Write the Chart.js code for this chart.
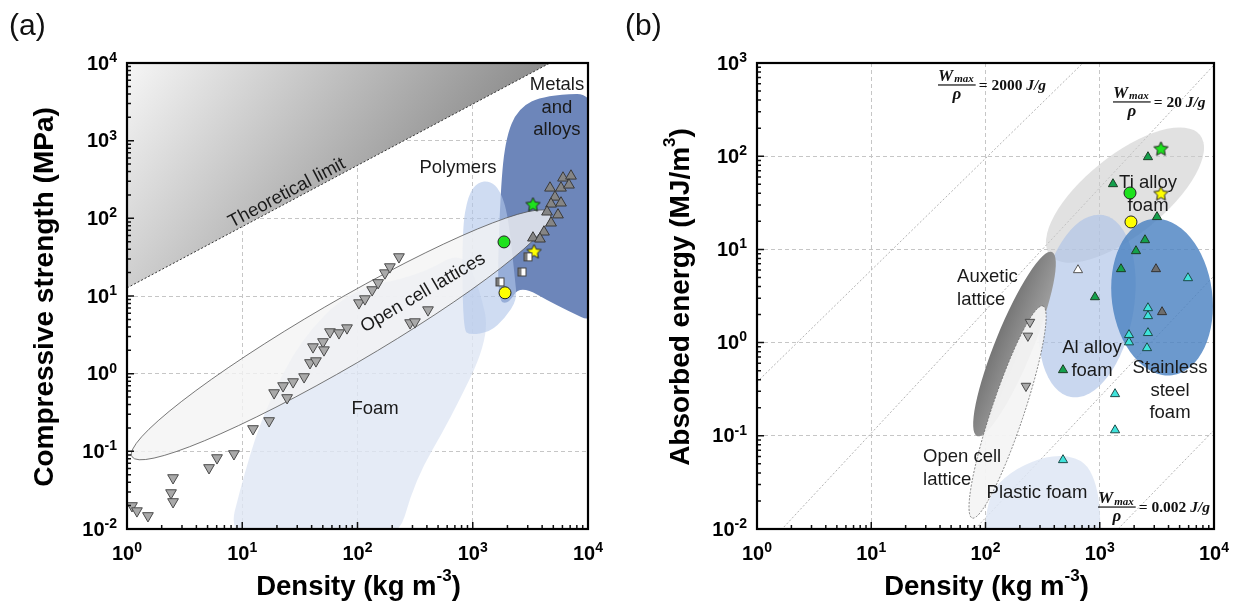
<!DOCTYPE html>
<html>
<head>
<meta charset="utf-8">
<script src="https://cdn.jsdelivr.net/npm/chart.js"></script>
<style>
  body { margin: 0; background: #fff; }
  #wrap { position: relative; width: 1236px; height: 611px; overflow: hidden; }
  .panel { position: absolute; top: 0; width: 618px; height: 611px; }
  .tag { position: absolute; top: 8px; font: 30px "Liberation Sans", Arial, sans-serif; color: #111; }
</style>
</head>
<body>
<div id="wrap">
  <canvas id="chartA" class="panel" width="618" height="611" style="left:0"></canvas>
  <canvas id="chartB" class="panel" width="618" height="611" style="left:618px"></canvas>
  <div class="tag" style="left:9px">(a)</div>
  <div class="tag" style="left:625px">(b)</div>
</div>
<script>
const FONT = '"Liberation Sans", Arial, Helvetica, sans-serif';
const SERIF = '"Liberation Serif", "DejaVu Serif", serif';

// ─── (a) compressive strength vs density ─────────────────────────────────────
const aXDecades = [0, 1, 2, 3, 4];
const aYDecades = [-2, -1, 0, 1, 2, 3, 4];

const theoryX = [1, 4680, 1];
const theoryY = [12.7, 1e4, 1e4];

const foamX = [7.0, 10.6, 15.7, 31.7, 86, 349, 823, 1156, 1413, 635, 315, 210];
const foamY = [0.005, 0.0578, 0.342, 2.72, 12, 18.7, 39.2, 12, 2.98, 0.254, 0.043, 0.005];
const polymerX = [823, 807, 910, 1110, 1413, 1723, 2025, 2330, 2420, 1905, 1413, 946];
const polymerY = [3.66, 70.8, 200, 294, 303, 232, 111, 16.1, 8.9, 5.2, 3.45, 3.16];
const metalX = [15000, 4240, 2470, 1905, 1723, 1625, 2025, 2570, 5170, 15000];
const metalY = [4110, 3870, 2640, 1020, 173, 8.9, 7.7, 13.9, 7.7, 3.66];
const latticeA = { c: [71.9, 3.16], end: [4680, 117], side: [99, 1.38] };

const latticeX = [1.105, 1.22, 1.52, 2.41, 2.51, 2.51, 5.15, 6.04, 8.47, 12.4, 17.1, 18.9, 22.6, 24.5, 27.6,
  34.4, 38.7, 43.6, 41.1, 50.2, 51.2, 57.7, 69.1, 81.1, 103, 116, 134, 151, 173, 191, 229, 286, 315, 409];
const latticeY = [0.0199, 0.0171, 0.0148, 0.0292, 0.0224, 0.0456, 0.0614, 0.0824, 0.0929, 0.195, 0.247, 0.566, 0.697, 0.489, 0.784,
  0.91, 1.38, 1.46, 2.21, 2.57, 2.02, 3.45, 3.35, 3.88, 8.15, 9.18, 12, 14.8, 19.8, 23.7, 31.9, 4.51, 4.64, 6.62];
const metalPtX = [6070, 7120, 5830, 6840, 4680, 5170, 4780, 5830, 4410, 5490, 4780, 4150, 3330, 3830];
const metalPtY = [331, 351, 246, 269, 246, 188, 153, 158, 121, 111, 87.3, 66.8, 56, 54.3];
const squareX = [3015, 2675, 1723];
const squareY = [31.9, 20.4, 15.2];
const aCircleX = [1867, 1905];
const aCircleY = [49.7, 11];
const aStarX = [3330, 3400];
const aStarY = [153, 38];

// ─── (b) absorbed energy vs density ──────────────────────────────────────────
const bXDecades = [0, 1, 2, 3, 4];
const bYDecades = [-2, -1, 0, 1, 2, 3];

const ratioStartX = [1, 1.72, 81, 1445];
const ratioStartY = [0.378, 0.0105, 0.01, 0.01];
const ratioEndX = [713, 1e4, 1e4, 1e4];
const ratioEndY = [1000, 953, 5.2, 0.115];

const tiFoam = { c: [1663, 38.3], end: [7540, 169], side: [2754, 17.8] };
const alFoam = { c: [773, 2.47], end: [1067, 23.4], side: [1954, 2.03] };
const steelFoam = { c: [3510, 3.08], end: [2866, 21.2], side: [9600, 2.66] };
const auxetic = { c: [179.4, 0.966], end: [382, 9.38], side: [255, 0.813] };
const openLatticeB = { c: [156, 0.18], end: [318, 2.47], side: [213, 0.159] };
const plasticX = [95, 105, 164, 300, 497, 743, 908, 1005, 1020];
const plasticY = [0.006, 0.0232, 0.0409, 0.0578, 0.0622, 0.0524, 0.0336, 0.0181, 0.006];

const greenTriX = [2643, 1306, 3170, 2489, 2075, 1535, 908, 477];
const greenTriY = [98, 50.3, 22.3, 12.6, 9.61, 6.16, 3.08, 0.508];
const grayTriX = [3105, 3510];
const grayTriY = [6.16, 2.13];
const whiteTriX = [645];
const whiteTriY = [6.01];
const cyanTriX = [5920, 2643, 2643, 1803, 1803, 2643, 2592, 1361, 1361, 477];
const cyanTriY = [4.93, 2.35, 1.93, 1.21, 1.01, 1.27, 0.875, 0.281, 0.115, 0.055];
const downTriX = [245, 235, 226];
const downTriY = [1.66, 1.18, 0.342];
const bCircleX = [1840, 1876];
const bCircleY = [40.3, 19.7];
const bStarX = [3436, 3436];
const bStarY = [122, 40.3];

// ─── helpers ─────────────────────────────────────────────────────────────────

const isDecade = v => v > 0 && Math.abs(Math.log10(v) - Math.round(Math.log10(v))) < 1e-6;

function allTicks(lo, hi) {
  const t = [];
  for (let e = lo; e < hi; e++) for (let m = 1; m < 10; m++) t.push(m * 10 ** e);
  t.push(10 ** hi);
  return t;
}

function logScale(decades, axis, size) {
  const lo = decades[0], hi = decades[decades.length - 1];
  return {
    type: 'logarithmic', min: 10 ** lo, max: 10 ** hi,
    afterBuildTicks(s) { s.ticks = allTicks(lo, hi).map(v => ({ value: v })); },
    afterFit(s) { if (axis === 'x') s.height = size; else s.width = size; },
    ticks: { display: false },
    grid: { drawTicks: false, lineWidth: 1, color: c => isDecade(c.tick && c.tick.value) ? '#c6c6c6' : 'rgba(0,0,0,0)' },
    border: { display: false, dash: [4, 3] },
  };
}

const pts = (xs, ys) => xs.map((x, i) => ({ x, y: ys[i] }));
const px = (chart, x, y) => [chart.scales.x.getPixelForValue(x), chart.scales.y.getPixelForValue(y)];

function smoothPath(ctx, p) {
  const n = p.length, mid = (a, b) => [(a[0] + b[0]) / 2, (a[1] + b[1]) / 2];
  const m0 = mid(p[n - 1], p[0]);
  ctx.beginPath();
  ctx.moveTo(m0[0], m0[1]);
  for (let i = 0; i < n; i++) {
    const m = mid(p[i], p[(i + 1) % n]);
    ctx.quadraticCurveTo(p[i][0], p[i][1], m[0], m[1]);
  }
  ctx.closePath();
}

function blob(chart, xs, ys, fill) {
  smoothPath(chart.ctx, xs.map((v, i) => px(chart, v, ys[i])));
  chart.ctx.fillStyle = fill;
  chart.ctx.fill();
}

function ellipse(chart, e) {
  const c = px(chart, ...e.c), p = px(chart, ...e.end), s = px(chart, ...e.side);
  const a = Math.hypot(p[0] - c[0], p[1] - c[1]);
  const b = Math.hypot(s[0] - c[0], s[1] - c[1]);
  const ang = Math.atan2(p[1] - c[1], p[0] - c[0]);
  chart.ctx.beginPath();
  chart.ctx.ellipse(c[0], c[1], a, b, ang, 0, Math.PI * 2);
  return { c, a, b, ang };
}

function label(chart, lines, x, y, align = 'center', rot = 0) {
  const { ctx } = chart;
  const [cx, cy] = px(chart, x, y);
  ctx.save();
  ctx.translate(cx, cy);
  ctx.rotate(rot);
  ctx.font = `18.5px ${FONT}`;
  ctx.fillStyle = '#1a1a1a';
  ctx.textAlign = align;
  ctx.textBaseline = 'middle';
  lines.forEach((t, i) => ctx.fillText(t, 0, i * 22.5));
  ctx.restore();
}

function ratioLabel(chart, x, y, value) {
  const { ctx } = chart;
  const [lx, ly] = px(chart, x, y);
  ctx.save();
  ctx.fillStyle = '#111';
  ctx.textAlign = 'left';
  ctx.textBaseline = 'alphabetic';
  ctx.font = `bold italic 17px ${SERIF}`;
  const wW = ctx.measureText('W').width;
  ctx.fillText('W', lx, ly - 4);
  ctx.font = `bold italic 11px ${SERIF}`;
  const wm = ctx.measureText('max').width;
  ctx.fillText('max', lx + wW + 1, ly - 2.5);
  const w = wW + wm + 3;
  ctx.fillRect(lx, ly - 0.6, w, 1.2);
  ctx.font = `bold italic 17px ${SERIF}`;
  ctx.fillText('ρ', lx + (w - ctx.measureText('ρ').width) / 2, ly + 14);
  ctx.font = `bold 15.5px ${SERIF}`;
  const head = '= ' + value + ' ';
  ctx.fillText(head, lx + w + 3, ly + 5);
  const wh = ctx.measureText(head).width;
  ctx.font = `bold italic 15.5px ${SERIF}`;
  ctx.fillText('J/g', lx + w + 3 + wh, ly + 5);
  ctx.restore();
}

function starImage(fill, r) {
  const c = document.createElement('canvas');
  const s = Math.ceil(2 * r + 4);
  c.width = c.height = s;
  const g = c.getContext('2d');
  g.beginPath();
  for (let i = 0; i < 10; i++) {
    const rr = i % 2 ? r * 0.48 : r, a = -Math.PI / 2 + i * Math.PI / 5;
    g.lineTo(s / 2 + rr * Math.cos(a), s / 2 + 1 + rr * Math.sin(a));
  }
  g.closePath();
  g.fillStyle = fill; g.fill();
  g.strokeStyle = '#222'; g.lineWidth = 1; g.stroke();
  return c;
}

function squareImage() {
  const c = document.createElement('canvas');
  c.width = c.height = 11;
  const g = c.getContext('2d');
  g.fillStyle = '#fff'; g.fillRect(1, 1, 9, 9);
  g.fillStyle = '#7a7a7a'; g.fillRect(1, 1, 4, 9);
  g.strokeStyle = '#444'; g.lineWidth = 1; g.strokeRect(1.5, 1.5, 8, 8);
  return c;
}

function powerLabel(ctx, exp, x, y, align) {
  ctx.font = `bold 20px ${FONT}`;
  const w1 = ctx.measureText('10').width;
  ctx.font = `bold 14px ${FONT}`;
  const w2 = ctx.measureText(exp).width;
  const left = align === 'right' ? x - w1 - w2 : x - (w1 + w2) / 2;
  ctx.textAlign = 'left';
  ctx.textBaseline = 'middle';
  ctx.font = `bold 20px ${FONT}`;
  ctx.fillText('10', left, y);
  ctx.font = `bold 14px ${FONT}`;
  ctx.fillText(exp, left + w1, y - 6);
}

function richTitle(ctx, parts, cx, cy, rot, size) {
  ctx.save();
  ctx.translate(cx, cy);
  ctx.rotate(rot);
  const big = `bold ${size}px ${FONT}`, small = `bold ${Math.round(size * 0.62)}px ${FONT}`;
  let total = 0;
  for (const p of parts) { ctx.font = p.sup ? small : big; total += ctx.measureText(p.t).width; }
  let x = -total / 2;
  ctx.textAlign = 'left';
  ctx.textBaseline = 'middle';
  ctx.fillStyle = '#000';
  for (const p of parts) {
    ctx.font = p.sup ? small : big;
    ctx.fillText(p.t, x, p.sup ? -size * 0.38 : 0);
    x += ctx.measureText(p.t).width;
  }
  ctx.restore();
}

// Plugin: frame, inward ticks, power-of-ten tick labels and axis titles
const framePlugin = {
  id: 'frame',
  afterDraw(chart) {
    const o = chart.options.plugins.frame;
    if (!o) return;
    const { ctx, chartArea: a, scales: { x, y } } = chart;
    ctx.save();
    ctx.strokeStyle = '#111';
    ctx.lineWidth = 1.5;
    ctx.beginPath();
    for (const t of x.ticks) {
      const p = x.getPixelForValue(t.value), len = isDecade(t.value) ? 7 : 4;
      ctx.moveTo(p, a.bottom); ctx.lineTo(p, a.bottom - len);
    }
    for (const t of y.ticks) {
      const p = y.getPixelForValue(t.value), len = isDecade(t.value) ? 7 : 4;
      ctx.moveTo(a.left, p); ctx.lineTo(a.left + len, p);
    }
    ctx.stroke();
    ctx.strokeStyle = '#000';
    ctx.lineWidth = 2.2;
    ctx.strokeRect(a.left, a.top, a.right - a.left, a.bottom - a.top);

    ctx.fillStyle = '#000';
    for (const e of o.xDecades) powerLabel(ctx, String(e), x.getPixelForValue(10 ** e), a.bottom + 25, 'center');
    for (const e of o.yDecades) powerLabel(ctx, String(e), a.left - 10, y.getPixelForValue(10 ** e) + 1, 'right');

    richTitle(ctx, o.xTitle, (a.left + a.right) / 2 + 1, a.bottom + 58, 0, 27.5);
    richTitle(ctx, o.yTitle, o.yTitleX, (a.top + a.bottom) / 2 + 1, -Math.PI / 2, 28);
    ctx.restore();
  },
};
Chart.register(framePlugin);

const densityTitle = [{ t: 'Density (kg m' }, { t: '-3', sup: true }, { t: ')' }];

// ─── (a) shapes ──────────────────────────────────────────────────────────────

function drawShapesA(chart) {
  const { ctx, chartArea: a } = chart;
  ctx.save();
  ctx.beginPath();
  ctx.rect(a.left, a.top, a.right - a.left, a.bottom - a.top);
  ctx.clip();

  // theoretical limit wedge, shaded from the top-left corner towards the lower right
  const tp = theoryX.map((v, i) => px(chart, v, theoryY[i]));
  const g = ctx.createLinearGradient(a.left, a.top, a.left + 300, a.top + 215);
  g.addColorStop(0, '#f6f6f6');
  g.addColorStop(1, '#858585');
  ctx.beginPath();
  tp.forEach(p => ctx.lineTo(p[0], p[1]));
  ctx.closePath();
  ctx.fillStyle = g;
  ctx.fill();
  ctx.beginPath();
  ctx.moveTo(...tp[0]); ctx.lineTo(...tp[1]);
  ctx.setLineDash([2, 2]);
  ctx.strokeStyle = '#333';
  ctx.lineWidth = 1;
  ctx.stroke();
  ctx.setLineDash([]);

  blob(chart, foamX, foamY, 'rgba(222,230,244,0.8)');
  blob(chart, metalX, metalY, '#6d86ba');
  blob(chart, polymerX, polymerY, 'rgba(178,198,234,0.62)');

  const el = ellipse(chart, latticeA);
  ctx.fillStyle = 'rgba(243,243,243,0.78)';
  ctx.fill();
  ctx.strokeStyle = '#555';
  ctx.lineWidth = 0.8;
  ctx.stroke();

  const lineAng = Math.atan2(tp[1][1] - tp[0][1], tp[1][0] - tp[0][0]);
  label(chart, ['Theoretical limit'], 24.4, 212, 'center', lineAng);
  label(chart, ['Open cell lattices'], 370, 11, 'center', el.ang);
  label(chart, ['Metals', 'and', 'alloys'], 5380, 5210);
  label(chart, ['Polymers'], 745, 446);
  label(chart, ['Foam'], 142, 0.352);
  ctx.restore();
}

// ─── (b) shapes ──────────────────────────────────────────────────────────────

function drawShapesB(chart) {
  const { ctx, chartArea: a } = chart;
  ctx.save();
  ctx.beginPath();
  ctx.rect(a.left, a.top, a.right - a.left, a.bottom - a.top);
  ctx.clip();

  ctx.strokeStyle = '#aaaaaa';
  ctx.lineWidth = 0.9;
  ctx.setLineDash([2, 2]);
  ratioStartX.forEach((x0, i) => {
    ctx.beginPath();
    ctx.moveTo(...px(chart, x0, ratioStartY[i]));
    ctx.lineTo(...px(chart, ratioEndX[i], ratioEndY[i]));
    ctx.stroke();
  });
  ctx.setLineDash([]);

  ellipse(chart, tiFoam);
  ctx.fillStyle = 'rgba(205,205,205,0.6)';
  ctx.fill();
  ellipse(chart, alFoam);
  ctx.fillStyle = 'rgba(172,193,230,0.65)';
  ctx.fill();
  ellipse(chart, steelFoam);
  ctx.fillStyle = 'rgba(76,130,194,0.82)';
  ctx.fill();

  const ax = ellipse(chart, auxetic);
  const nx = Math.cos(ax.ang + Math.PI / 2) * ax.b, ny = Math.sin(ax.ang + Math.PI / 2) * ax.b;
  const g = ctx.createLinearGradient(ax.c[0] - nx, ax.c[1] - ny, ax.c[0] + nx, ax.c[1] + ny);
  g.addColorStop(0, '#767676');
  g.addColorStop(1, '#a0a0a0');
  ctx.fillStyle = g;
  ctx.fill();

  ellipse(chart, openLatticeB);
  ctx.fillStyle = 'rgba(244,244,244,0.95)';
  ctx.fill();
  ctx.setLineDash([2, 1.5]);
  ctx.strokeStyle = '#666';
  ctx.lineWidth = 0.8;
  ctx.stroke();
  ctx.setLineDash([]);

  blob(chart, plasticX, plasticY, 'rgba(222,230,244,0.85)');

  label(chart, ['Ti alloy', 'foam'], 2643, 51.6);
  label(chart, ['Auxetic', 'lattice'], 56.4, 5.06, 'left');
  label(chart, ['Al alloy', 'foam'], 855, 0.875);
  label(chart, ['Stainless', 'steel', 'foam'], 4120, 0.533);
  label(chart, ['Open cell', 'lattice'], 28.4, 0.0593, 'left');
  label(chart, ['Plastic foam'], 282, 0.0243);
  ratioLabel(chart, 38.4, 581, '2000');
  ratioLabel(chart, 1306, 382, '20');
  ratioLabel(chart, 966, 0.0172, '0.002');
  ctx.restore();
}

// ─── charts ──────────────────────────────────────────────────────────────────

const tri = (xs, ys, fill, border, r, rot = 0) => ({
  data: pts(xs, ys), pointStyle: 'triangle', pointRadius: r, pointRotation: rot,
  backgroundColor: fill, borderColor: border, borderWidth: 1,
});
const dot = (xs, ys, fill, r) => ({
  data: pts(xs, ys), pointStyle: 'circle', pointRadius: r,
  backgroundColor: fill, borderColor: '#222', borderWidth: 1,
});
const img = (x, y, image) => ({ data: [{ x, y }], pointStyle: image, pointRadius: 7 });

function baseOptions(xDec, yDec, leftW, rightPad, frame) {
  return {
    responsive: false,
    animation: false,
    layout: { padding: { top: 63, right: rightPad, left: 0, bottom: 0 } },
    scales: { x: logScale(xDec, 'x', 82), y: logScale(yDec, 'y', leftW) },
    plugins: { legend: { display: false }, tooltip: { enabled: false }, frame },
  };
}

new Chart(document.getElementById('chartA'), {
  type: 'scatter',
  data: {
    datasets: [
      tri(latticeX, latticeY, '#a9a9a9', '#4a4a4a', 6.2, 180),
      tri(metalPtX, metalPtY, '#858585', '#3a3a3a', 6.2),
      ...squareX.map((x, i) => img(x, squareY[i], squareImage())),
      dot(aCircleX.slice(0, 1), aCircleY.slice(0, 1), '#1de21d', 6),
      dot(aCircleX.slice(1), aCircleY.slice(1), '#ffff00', 6),
      img(aStarX[0], aStarY[0], starImage('#1de21d', 7.5)),
      img(aStarX[1], aStarY[1], starImage('#ffff00', 7.5)),
    ],
  },
  options: baseOptions(aXDecades, aYDecades, 127, 30, {
    xDecades: aXDecades, yDecades: aYDecades, xTitle: densityTitle, yTitleX: 45,
    yTitle: [{ t: 'Compressive strength (MPa)' }],
  }),
  plugins: [{ id: 'shapesA', beforeDatasetsDraw: drawShapesA }],
});

new Chart(document.getElementById('chartB'), {
  type: 'scatter',
  data: {
    datasets: [
      tri(downTriX, downTriY, '#a9a9a9', '#4a4a4a', 5.5, 180),
      tri(greenTriX, greenTriY, '#13a04c', '#1d3d25', 5.3),
      tri(grayTriX, grayTriY, '#6e6e6e', '#333', 5.3),
      tri(whiteTriX, whiteTriY, '#ffffff', '#555', 5.3),
      tri(cyanTriX, cyanTriY, '#3fe3db', '#1c4a48', 5.3),
      dot(bCircleX.slice(0, 1), bCircleY.slice(0, 1), '#1de21d', 6),
      dot(bCircleX.slice(1), bCircleY.slice(1), '#ffff00', 6),
      img(bStarX[0], bStarY[0], starImage('#1de21d', 7.5)),
      img(bStarX[1], bStarY[1], starImage('#ffff00', 7.5)),
    ],
  },
  options: baseOptions(bXDecades, bYDecades, 139, 22, {
    xDecades: bXDecades, yDecades: bYDecades, xTitle: densityTitle, yTitleX: 63,
    yTitle: [{ t: 'Absorbed energy (MJ/m' }, { t: '3', sup: true }, { t: ')' }],
  }),
  plugins: [{ id: 'shapesB', beforeDatasetsDraw: drawShapesB }],
});
</script>
</body>
</html>
